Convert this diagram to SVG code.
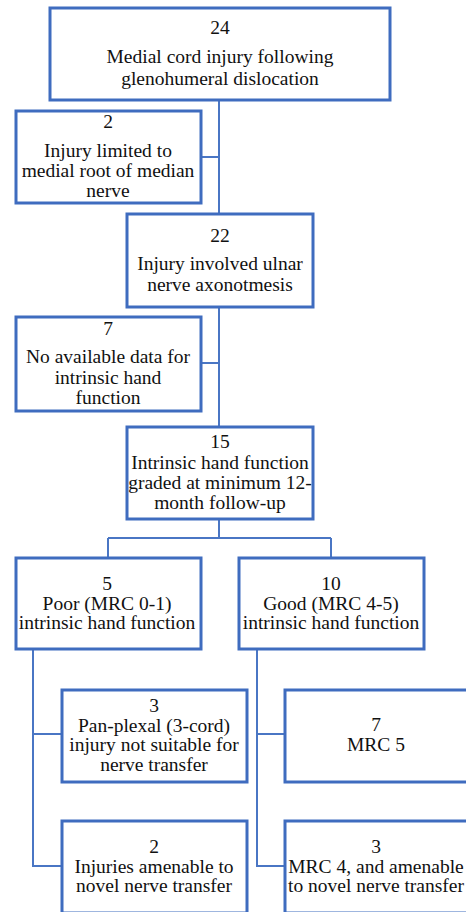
<svg xmlns="http://www.w3.org/2000/svg" width="466" height="912" viewBox="0 0 466 912">
<style>
.box{fill:#ffffff;stroke:#3f6cbf;stroke-width:3}
.con{fill:none;stroke:#4a76c4;stroke-width:2}
text{font-size:19.5px;fill:#111111;text-anchor:middle}
</style>
<rect width="466" height="912" fill="#ffffff"/>
<g id="connectors">
<path class="con" d="M219,100 V214"/>
<path class="con" d="M201,157 H219"/>
<path class="con" d="M219,307 V427"/>
<path class="con" d="M201,363 H219"/>
<path class="con" d="M219,519 V538 M108,538 H331 M108,538 V558 M331,538 V558"/>
<path class="con" d="M33,649 V866 H62 M33,734 H62"/>
<path class="con" d="M257,649 V866 H285 M257,734 H285"/>
</g>
<g id="n1" font-family="Liberation Serif"><rect class="box" x="50" y="8" width="340" height="92"/>
<text x="220" y="34">24</text><text x="220" y="63">Medial cord injury following</text><text x="220" y="85">glenohumeral  dislocation</text></g>
<g id="n2" font-family="Times New Roman"><rect class="box" x="16" y="111" width="185" height="92"/>
<text x="108" y="128">2</text><text x="108" y="157">Injury  limited to</text><text x="108" y="177">medial root of median</text><text x="108" y="197">nerve</text></g>
<g id="n3" font-family="Tinos"><rect class="box" x="127" y="214" width="186" height="93"/>
<text x="220" y="242">22</text><text x="220" y="270">Injury  involved ulnar</text><text x="220" y="291">nerve axonotmesis</text></g>
<g id="n4" font-family="serif"><rect class="box" x="16" y="317" width="185" height="94"/>
<text x="108" y="335">7</text><text x="108" y="363">No available data for</text><text x="108" y="384">intrinsic  hand</text><text x="108" y="404">function</text></g>
<g id="n5" font-family="'Liberation Serif', serif"><rect class="box" x="127" y="427" width="186" height="92"/>
<text x="220" y="448">15</text><text x="220" y="469">Intrinsic  hand  function</text><text x="220" y="489">graded at minimum 12-</text><text x="220" y="509">month follow-up</text></g>
<g id="n6" font-family="Liberation Serif"><rect class="box" x="16" y="558" width="185" height="91"/>
<text x="107" y="590">5</text><text x="107" y="610">Poor (MRC 0-1)</text><text x="107" y="629">intrinsic hand  function</text></g>
<g id="n7" font-family="Times New Roman"><rect class="box" x="239" y="558" width="185" height="91"/>
<text x="331" y="590">10</text><text x="331" y="610">Good (MRC 4-5)</text><text x="331" y="629">intrinsic  hand  function</text></g>
<g id="n8" font-family="'Liberation Serif', serif"><rect class="box" x="62" y="690" width="185" height="92"/>
<text x="154" y="712">3</text><text x="154" y="732">Pan-plexal (3-cord)</text><text x="154" y="751">injury not suitable for</text><text x="154" y="771">nerve transfer</text></g>
<g id="n9" font-family="Tinos"><rect class="box" x="62" y="821" width="185" height="92"/>
<text x="154" y="853">2</text><text x="154" y="873">Injuries amenable to</text><text x="154" y="892">novel nerve  transfer</text></g>
<g id="n10" font-family="serif"><rect class="box" x="285" y="690" width="190" height="92"/>
<text x="376" y="731">7</text><text x="376" y="751">MRC 5</text></g>
<g id="n11" font-family="Liberation Serif"><rect class="box" x="285" y="821" width="190" height="92"/>
<text x="376" y="853">3</text><text x="376" y="873">MRC 4, and amenable</text><text x="376" y="892">to novel nerve transfer</text></g>
</svg>
